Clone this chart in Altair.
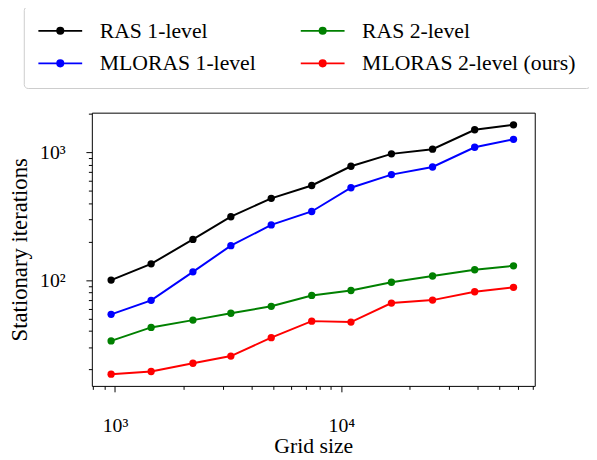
import altair as alt
import pandas as pd

# ---- data ----
grid_size = [961, 1444, 2209, 3249, 4900, 7396, 11025, 16641, 25281, 38809, 57600]
ras_1 = [100, 134, 208, 313, 436, 549, 776, 970, 1055, 1497, 1636]
mloras_1 = [54, 69.5, 116, 186, 270, 344, 527, 668, 766, 1093, 1260]
ras_2 = [33.5, 42.7, 48.7, 55.1, 62.4, 75.9, 83, 96.2, 107.7, 120.5, 129.4]
mloras_2 = [18.4, 19.3, 22.4, 25.5, 35.5, 47.8, 47, 66.2, 69.8, 81.1, 87.9]

series_names = ["RAS 1-level", "MLORAS 1-level", "RAS 2-level", "MLORAS 2-level (ours)"]
series_values = [ras_1, mloras_1, ras_2, mloras_2]
series_colors = ["#000000", "#0000ff", "#008000", "#ff0000"]

x_ticks = [800, 900, 1000, 2000, 3000, 4000, 5000, 6000, 7000, 8000, 9000, 10000,
           20000, 30000, 40000, 50000, 60000, 70000]
y_ticks = [20, 30, 40, 50, 60, 70, 80, 90, 100, 200, 300, 400, 500, 600, 700, 800, 900, 1000, 2000]

rows = []
for name, vals in zip(series_names, series_values):
    for g, v in zip(grid_size, vals):
        rows.append({"grid": g, "iters": v, "series": name})
df = pd.DataFrame(rows)

FONT = "Liberation Serif"


def circle(cx, r):
    return f"M{cx - r},0A{r},{r} 0 1,0 {cx + r},0A{r},{r} 0 1,0 {cx - r},0Z"


cx = 1.2
sym_path = f"M{cx - 2.22},0H{cx + 2.22}" + circle(cx, 0.32) + circle(cx, 0.2) + circle(cx, 0.08)

color_scale = alt.Scale(domain=series_names, range=series_colors)
x_scale = alt.Scale(type="log", domain=[790, 71500], nice=False)
y_scale = alt.Scale(type="log", domain=[14.9, 2036], nice=False)

legend = alt.Legend(
    title=None, orient="none", legendX=-69, legendY=-108, columns=2,
    symbolType=sym_path, symbolSize=400, symbolStrokeWidth=1.8, symbolOpacity=1,
    labelFont=FONT, labelFontSize=22, labelColor="black", labelLimit=400,
    labelOffset=41, columnPadding=41, rowPadding=11, padding=14,
    strokeColor="#cccccc", fillColor="white", cornerRadius=4,
)

x_axis = alt.Axis(
    values=x_ticks,
    labelExpr="datum.value == 1000 ? '10\u00b3' : (datum.value == 10000 ? '10\u2074' : '')",
    tickSize={"condition": {"test": "datum.value == 1000 || datum.value == 10000", "value": 6}, "value": 3.5},
    tickColor="black", tickWidth=1, domain=False, grid=False,
    labelFont=FONT, labelFontSize=20, labelColor="black", labelOverlap=False,
    labelBaseline="alphabetic", labelPadding=40,
    title="Grid size", titleFont=FONT, titleFontSize=22, titleFontWeight="normal",
    titleColor="black", titleBaseline="alphabetic", titleY=68,
)
y_axis = alt.Axis(
    values=y_ticks,
    labelExpr="datum.value == 100 ? '10\u00b2' : (datum.value == 1000 ? '10\u00b3' : '')",
    tickSize={"condition": {"test": "datum.value == 100 || datum.value == 1000", "value": 6}, "value": 3.5},
    tickColor="black", tickWidth=1, domain=False, grid=False,
    labelFont=FONT, labelFontSize=20, labelColor="black", labelOverlap=False,
    labelBaseline="middle", labelPadding=21,
    title="Stationary iterations", titleFont=FONT, titleFontSize=23, titleFontWeight="normal",
    titleColor="black", titleAngle=270, titleBaseline="alphabetic", titleAlign="center",
    titleX=-66, titleY=138.5,
)

base = alt.Chart(df)
lines = base.mark_line(strokeWidth=2).encode(
    x=alt.X("grid:Q", scale=x_scale, axis=x_axis),
    y=alt.Y("iters:Q", scale=y_scale, axis=y_axis),
    stroke=alt.Stroke("series:N", scale=color_scale, legend=legend, sort=series_names),
    detail="series:N",
)
points = base.mark_point(filled=True, size=55, opacity=1, strokeWidth=0).encode(
    x=alt.X("grid:Q", scale=x_scale),
    y=alt.Y("iters:Q", scale=y_scale),
    fill=alt.Fill("series:N", scale=color_scale, legend=legend, sort=series_names),
)

chart = alt.layer(lines, points).properties(
    width=449, height=277,
    autosize=alt.AutoSizeParams(type="none"),
    padding={"left": 85, "top": 103, "right": 55, "bottom": 72},
).configure(font=FONT).configure_view(stroke="black", strokeWidth=1)

chart.save("out.html", embed_options={"renderer": "svg", "actions": False})
